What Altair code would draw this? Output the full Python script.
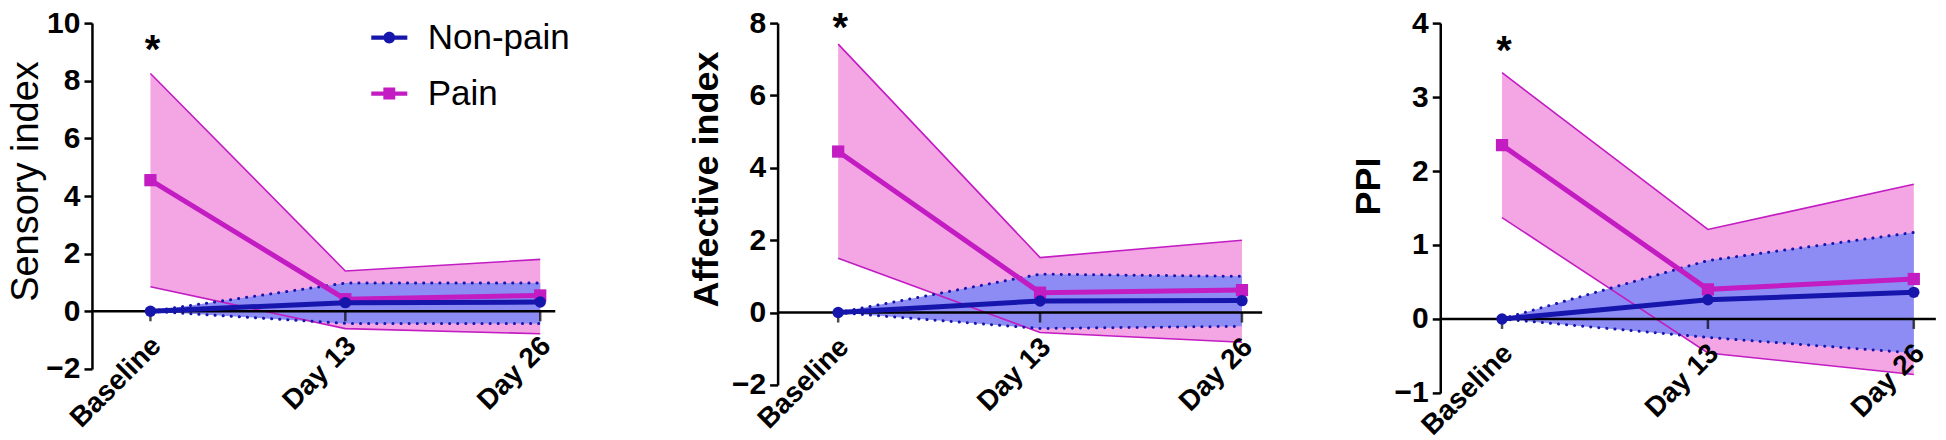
import json
import altair as alt
import pandas as pd

categories = ["Baseline", "Day 13", "Day 26"]
groups = ["Non-pain", "Pain"]
sig_labels = ["*", "", ""]

# Sensory index
sens_pain_mean = [4.55, 0.42, 0.55]
sens_pain_lo = [0.85, -0.60, -0.78]
sens_pain_hi = [8.25, 1.40, 1.80]
sens_np_mean = [0.0, 0.30, 0.32]
sens_np_lo = [0.0, -0.42, -0.42]
sens_np_hi = [0.0, 0.98, 0.98]
sens_sig_y = [9.3, 0, 0]

# Affective index
aff_pain_mean = [4.45, 0.55, 0.62]
aff_pain_lo = [1.50, -0.55, -0.82]
aff_pain_hi = [7.42, 1.52, 2.00]
aff_np_mean = [0.0, 0.32, 0.33]
aff_np_lo = [0.0, -0.44, -0.38]
aff_np_hi = [0.0, 1.06, 1.00]
aff_sig_y = [8.05, 0, 0]

# PPI
ppi_pain_mean = [2.35, 0.40, 0.54]
ppi_pain_lo = [1.37, -0.46, -0.75]
ppi_pain_hi = [3.33, 1.21, 1.82]
ppi_np_mean = [0.0, 0.26, 0.36]
ppi_np_lo = [0.0, -0.25, -0.46]
ppi_np_hi = [0.0, 0.79, 1.17]
ppi_sig_y = [3.72, 0, 0]

PINK_FILL = "#F4A6E4"
MAGENTA = "#C21CC2"
BLUE_FILL = "#8C8CF4"
BLUE = "#1616AC"
FONT = "Liberation Sans"

LEG_CIRCLE = ("M-1,-0.12H-0.31V0.12H-1Z M0.31,-0.12H1V0.12H0.31Z "
              "M-0.33,0A0.33,0.33 0 1,1 0.33,0A0.33,0.33 0 1,1 -0.33,0Z")
LEG_SQUARE = ("M-1,-0.12H-0.31V0.12H-1Z M0.31,-0.12H1V0.12H0.31Z "
              "M-0.33,-0.33H0.33V0.33H-0.33Z")


def make_df(pm, plo, phi, nm, nlo, nhi, sy):
    rows = []
    for i, c in enumerate(categories):
        rows.append(dict(idx=i, cat=c, group="Non-pain", mean=nm[i], lo=nlo[i], hi=nhi[i], sig="", sigy=0))
        rows.append(dict(idx=i, cat=c, group="Pain", mean=pm[i], lo=plo[i], hi=phi[i],
                         sig=sig_labels[i], sigy=sy[i]))
    return pd.DataFrame(rows)


def panel(df, ydom, yvals, title, bold, tsize, h, w, xmax, xend, tx, ty, legend=False):
    zero_from_bottom = h * (0 - ydom[0]) / (ydom[1] - ydom[0])
    xaxis = alt.Axis(values=[0, 1, 2], labelExpr=json.dumps(categories) + "[datum.value]",
                     domain=False, ticks=False, grid=False, labelAngle=-45, labelAlign="right",
                     labelBaseline="middle", labelPadding=30, labelOffset=6,
                     offset=-zero_from_bottom, zindex=1,
                     labelFontSize=28, labelFontWeight="bold", labelFont=FONT, labelColor="black",
                     labelOverlap=False, labelFlush=False, title=None)
    yaxis = alt.Axis(values=yvals, format="d", grid=False, domainColor="black", domainWidth=2.5,
                     tickColor="black", tickWidth=2.5, tickSize=8, labelPadding=4,
                     labelFontSize=30, labelFontWeight="bold", labelFont=FONT,
                     labelColor="black", title=title, titleFont=FONT, titleFontSize=tsize,
                     titleFontWeight="bold" if bold else "normal", titleColor="black",
                     titleX=tx, titleY=ty, titleBaseline="middle", titleAlign="center",
                     titleAngle=270)
    xs = alt.Scale(domain=[-0.3, xmax], nice=False, zero=False)
    ys = alt.Scale(domain=ydom, nice=False, zero=False)

    def X():
        return alt.X("idx:Q", scale=xs, axis=xaxis)

    def Y(f):
        return alt.Y(f + ":Q", scale=ys, axis=yaxis)

    base = alt.Chart(df)
    pain = base.transform_filter(alt.datum.group == "Pain")
    nonp = base.transform_filter(alt.datum.group == "Non-pain")

    layers = [
        pain.mark_area(color=PINK_FILL, opacity=1).encode(x=X(), y=Y("lo"), y2="hi:Q"),
        nonp.mark_area(color=BLUE_FILL, opacity=1).encode(x=X(), y=Y("lo"), y2="hi:Q"),
        pain.mark_line(color=MAGENTA, strokeWidth=1.6).encode(x=X(), y=Y("lo")),
        pain.mark_line(color=MAGENTA, strokeWidth=1.6).encode(x=X(), y=Y("hi")),
        nonp.mark_line(color=BLUE, strokeWidth=3, strokeDash=[0.1, 8], strokeCap="round").encode(x=X(), y=Y("lo")),
        nonp.mark_line(color=BLUE, strokeWidth=3, strokeDash=[0.1, 8], strokeCap="round").encode(x=X(), y=Y("hi")),
        alt.Chart(pd.DataFrame({"a": [0]})).mark_rule(color="black", strokeWidth=2.5).encode(
            x=alt.datum(-0.3, scale=xs), x2=alt.datum(xend), y=alt.datum(0, scale=ys)),
        pain.mark_tick(orient="vertical", size=10, thickness=2.5, color="black", yOffset=5).encode(
            x=X(), y=alt.datum(0)),
        pain.mark_line(color=MAGENTA, strokeWidth=5).encode(x=X(), y=Y("mean")),
        pain.mark_point(shape="square", filled=True, size=150, color=MAGENTA, opacity=1).encode(x=X(), y=Y("mean")),
        nonp.mark_line(color=BLUE, strokeWidth=5).encode(x=X(), y=Y("mean")),
        nonp.mark_point(shape="circle", filled=True, size=130, color=BLUE, opacity=1).encode(x=X(), y=Y("mean")),
        pain.mark_text(fontSize=40, fontWeight="bold", font=FONT, color="black",
                       baseline="alphabetic", dy=20, dx=2).encode(x=X(), y=Y("sigy"), text="sig:N"),
    ]
    if legend:
        leg = alt.Legend(title=None, orient="none", legendX=279, legendY=-4, symbolSize=1300,
                         symbolOpacity=1, symbolStrokeWidth=0, rowPadding=19, labelOffset=20,
                         labelFontSize=35, labelFont=FONT, labelColor="black", padding=0)
        layers.append(base.mark_point(filled=True, opacity=0).encode(
            x=X(), y=Y("mean"),
            color=alt.Color("group:N", scale=alt.Scale(domain=groups, range=[BLUE, MAGENTA]), legend=leg),
            shape=alt.Shape("group:N", scale=alt.Scale(domain=groups, range=[LEG_CIRCLE, LEG_SQUARE]), legend=leg),
        ))
    return alt.layer(*layers).properties(width=w, height=h)


p1 = panel(make_df(sens_pain_mean, sens_pain_lo, sens_pain_hi, sens_np_mean, sens_np_lo, sens_np_hi, sens_sig_y),
           [-2, 10], [-2, 0, 2, 4, 6, 8, 10], "Sensory index", False, 38, 346, 597, -0.3 + 597 / 195, 2.077,
           -65, 158, legend=True)
p2 = panel(make_df(aff_pain_mean, aff_pain_lo, aff_pain_hi, aff_np_mean, aff_np_lo, aff_np_hi, aff_sig_y),
           [-2, 8], [-2, 0, 2, 4, 6, 8], "Affective index", True, 36, 362, 573, -0.3 + 573 / 202, 2.10,
           -71, 156)
p3 = panel(make_df(ppi_pain_mean, ppi_pain_lo, ppi_pain_hi, ppi_np_mean, ppi_np_lo, ppi_np_hi, ppi_sig_y),
           [-1, 4], [-1, 0, 1, 2, 3, 4], "PPI", True, 36, 370, 497, -0.3 + 497 / 206, 2.107,
           -72, 163)

chart = alt.hconcat(p1, p2, p3, spacing=0).resolve_scale(
    color="independent", shape="independent"
).properties(padding=0).configure_view(stroke=None)

chart.save("out.html", embed_options={"renderer": "svg", "actions": False})
